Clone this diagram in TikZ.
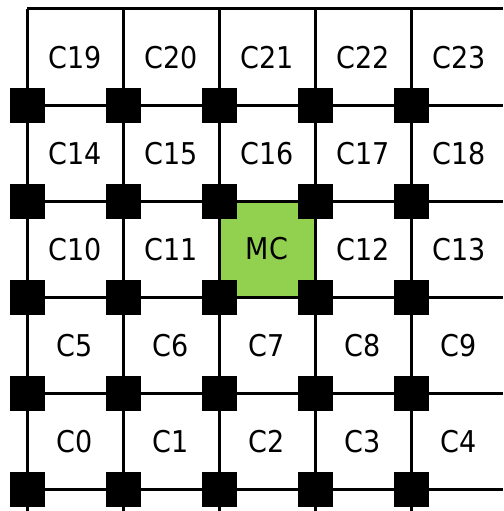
\documentclass[tikz,border=0pt]{standalone}
\usepackage{fontspec}
\setmainfont{DejaVu Sans Condensed}
\usepackage{tikz}
\usetikzlibrary{positioning}
\definecolor{mcgreen}{RGB}{146, 208, 80}

\begin{document}
\begin{tikzpicture}[x=1pt, y=-1pt]
    % Styles
    \tikzstyle{cell} = [minimum size=94pt, inner sep=0pt, font=\fontsize{30}{32}\selectfont]
    \tikzstyle{router} = [fill=black, minimum size=35pt, inner sep=0pt]
    \tikzstyle{link} = [line width=3pt]

    \useasboundingbox (0,0) rectangle (503,511);

    % Master cell
    \node[cell, fill=mcgreen, minimum size=97pt] (mc) at (267, 249) {MC};

    % Cell labels
    \foreach \i/\j/\lab in {0/0/19, 1/0/20, 2/0/21, 3/0/22, 4/0/23,
                            0/1/14, 1/1/15, 2/1/16, 3/1/17, 4/1/18,
                            0/2/10, 1/2/11, 3/2/12, 4/2/13,
                            0/3/5, 1/3/6, 2/3/7, 3/3/8, 4/3/9,
                            0/4/0, 1/4/1, 2/4/2, 3/4/3, 4/4/4}
        \node[cell] (c\lab) at (75+96*\i, 58+96*\j) {C\lab};

    % Free ends of the links
    \coordinate (topright) at (503, 9);
    \foreach \i in {0,...,4} {
        \coordinate (top\i) at (27+96*\i, 9);
        \coordinate (bot\i) at (27+96*\i, 511);
        \coordinate (right\i) at (503, 105+96*\i);
    }

    % Routers
    \foreach \i in {0,...,4}
        \foreach \j in {0,...,4}
            \coordinate (p\i\j) at (27+96*\i, 105+96*\j);

    % Links
    \draw[link] (top0) -- (topright);
    \foreach \i in {0,...,4} {
        \draw[link] (top\i) -- (p\i0) -- (p\i1) -- (p\i2) -- (p\i3) -- (p\i4) -- (bot\i);
        \draw[link] (p0\i) -- (p1\i) -- (p2\i) -- (p3\i) -- (p4\i) -- (right\i);
    }

    \foreach \i in {0,...,4}
        \foreach \j in {0,...,4}
            \node[router] (r\i\j) at (p\i\j) {};
\end{tikzpicture}
\end{document}
